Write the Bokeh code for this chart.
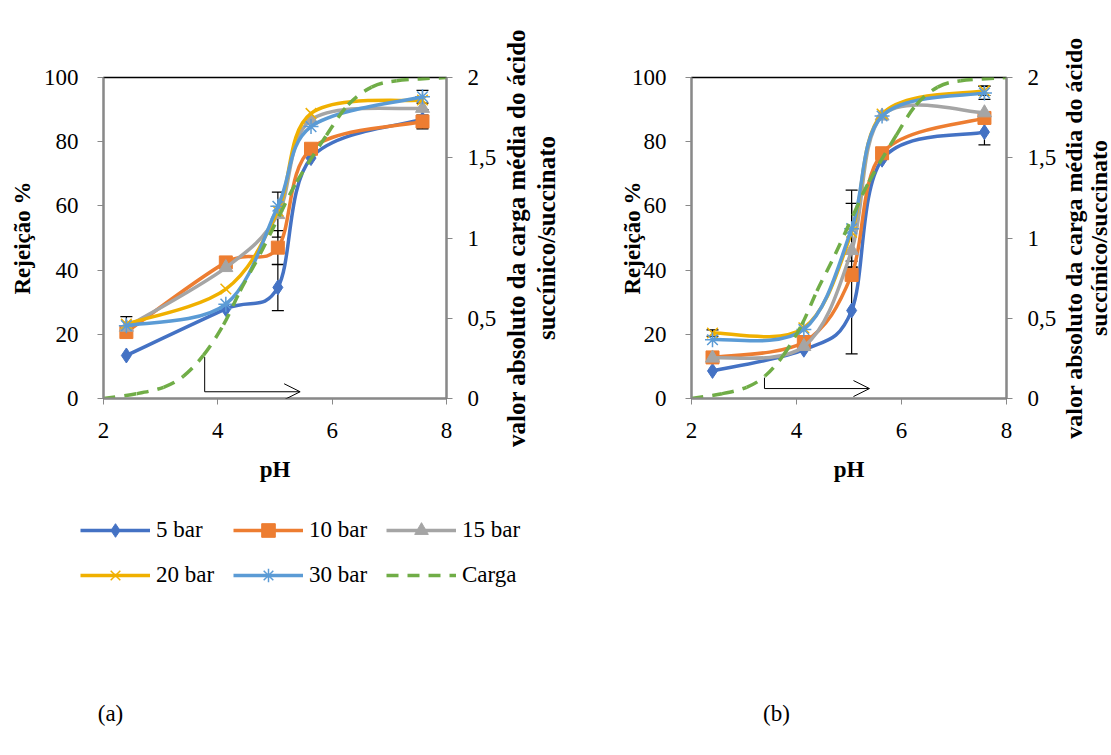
from math import pi
from bokeh.plotting import figure
from bokeh.models import (Range1d, LinearAxis, FixedTicker, Legend, LegendItem, Label,
                          Arrow, OpenHead, Whisker, TeeHead, ColumnDataSource)
from bokeh.layouts import row, column
from bokeh.embed import file_html
from bokeh.resources import INLINE

# ---------------- data ----------------
ph = [2.4, 4.14, 5.05, 5.63, 7.58]
series_names = ["5 bar", "10 bar", "15 bar", "20 bar", "30 bar"]

# panel (a) rejection %
a_5 = [13.4, 27.9, 34.6, 74.9, 87.0]
a_10 = [20.7, 42.4, 47.0, 77.8, 86.3]
a_15 = [22.2, 40.8, 57.3, 86.8, 90.4]
a_20 = [23.2, 34.1, 58.4, 88.8, 93.0]
a_30 = [22.7, 29.4, 59.9, 84.7, 94.0]
# panel (a) error (+/-)
a_err_5 = [0, 0, 7.2, 0, 3.0]
a_err_10 = [0, 0, 5.3, 0, 2.0]
a_err_15 = [0, 0, 7.0, 0, 0]
a_err_20 = [2.3, 0, 0, 0, 0]
a_err_30 = [0, 0, 0, 0, 2.0]

# panel (b) rejection %
b_5 = [8.6, 15.2, 27.4, 74.4, 83.0]
b_10 = [12.8, 17.6, 38.5, 76.4, 87.4]
b_15 = [12.6, 16.2, 46.1, 88.0, 89.0]
b_20 = [20.4, 22.0, 51.8, 88.6, 95.9]
b_30 = [18.3, 21.5, 52.9, 88.0, 95.2]
b_err_5 = [0, 0, 13.5, 0, 4.0]
b_err_10 = [0, 0, 0, 0, 0]
b_err_15 = [0, 0, 0, 0, 0]
b_err_20 = [1.0, 0, 9.0, 0, 1.5]
b_err_30 = [0, 0, 12.0, 0, 2.0]

# average charge of succinic acid / succinate (right axis)
carga_ph = [2.0, 2.58, 3.05, 3.40, 3.75, 4.10, 4.39, 4.74, 5.09, 5.38, 5.90, 6.28, 6.69, 7.13, 8.0]
carga = [0.0, 0.03, 0.07, 0.14, 0.27, 0.46, 0.67, 0.90, 1.15, 1.35, 1.64, 1.83, 1.94, 1.98, 2.0]

x_ticks = [2, 4, 6, 8]
y_ticks = [0, 20, 40, 60, 80, 100]
y2_ticks = [0, 0.5, 1, 1.5, 2]
y2_labels = {0: "0", 0.5: "0,5", 1: "1", 1.5: "1,5", 2: "2"}
right_title = "valor absoluto da carga média do ácido\nsuccínico/succinato"
panel_tags = ["(a)", "(b)"]

colors = ["#4472C4", "#ED7D31", "#A5A5A5", "#F0B000", "#5B9BD5"]
markers = ["diamond", "square", "triangle", "x", "asterisk"]
msizes = [15, 13, 14, 15, 15]
green = "#70AD47"

FONT = "Liberation Serif"
AXIS_GRAY = "#898989"
ROW_H = 490
BOTTOM_H = 250
TOP_B = 77
BOT_B = 92
NAN = float("nan")


def bezier_ctrl(xs, ys):
    n = len(xs)
    out = dict(x0=[], y0=[], x1=[], y1=[], cx0=[], cy0=[], cx1=[], cy1=[])
    for i in range(n - 1):
        im = i - 1 if i > 0 else i
        i2 = i + 2 if i + 2 < n else i + 1
        out["x0"].append(xs[i]); out["y0"].append(ys[i])
        out["x1"].append(xs[i + 1]); out["y1"].append(ys[i + 1])
        out["cx0"].append(xs[i] + (xs[i + 1] - xs[im]) / 6)
        out["cy0"].append(ys[i] + (ys[i + 1] - ys[im]) / 6)
        out["cx1"].append(xs[i + 1] - (xs[i2] - xs[i]) / 6)
        out["cy1"].append(ys[i + 1] - (ys[i2] - ys[i]) / 6)
    return out


def style_axis(ax):
    ax.axis_line_color = AXIS_GRAY
    ax.axis_line_width = 2
    ax.major_tick_line_color = AXIS_GRAY
    ax.major_tick_in = 0
    ax.major_tick_out = 6
    ax.minor_tick_line_color = None
    ax.major_label_text_font = FONT
    ax.major_label_text_font_size = "23px"
    ax.major_label_text_color = "black"
    ax.axis_label_text_font = FONT
    ax.axis_label_text_font_size = "23px"
    ax.axis_label_text_font_style = "bold"
    ax.axis_label_text_color = "black"


def make_panel(vals, errs, width, ml, mr, left_label_standoff, left_standoff):
    p = figure(width=width, height=ROW_H, x_range=Range1d(2, 8), y_range=Range1d(0, 100),
               output_backend="svg", toolbar_location=None,
               min_border_left=ml, min_border_right=mr, min_border_top=TOP_B, min_border_bottom=BOT_B)
    p.extra_y_ranges = {"carga": Range1d(0, 2)}
    p.xgrid.visible = False
    p.ygrid.visible = False
    p.outline_line_color = "black"
    p.outline_line_width = 1.5
    p.background_fill_color = "white"
    p.border_fill_color = "white"

    ax2 = LinearAxis(y_range_name="carga")
    p.add_layout(ax2, "right")
    for ax in [p.xaxis[0], p.yaxis[0], ax2]:
        style_axis(ax)
    p.xaxis.ticker = FixedTicker(ticks=x_ticks)
    p.yaxis[0].ticker = FixedTicker(ticks=y_ticks)
    ax2.ticker = FixedTicker(ticks=y2_ticks)
    ax2.major_label_overrides = y2_labels
    p.xaxis.axis_label = "pH"
    p.xaxis.major_label_standoff = 18
    p.xaxis.axis_label_standoff = 16
    p.yaxis[0].axis_label = "Rejeição %"
    p.yaxis[0].major_label_standoff = left_label_standoff
    p.yaxis[0].axis_label_standoff = left_standoff
    ax2.major_label_standoff = 15

    for name, ys, err, c, m, s in zip(series_names, vals, errs, colors, markers, msizes):
        p.bezier(source=ColumnDataSource(bezier_ctrl(ph, ys)), x0="x0", y0="y0", x1="x1", y1="y1",
                 cx0="cx0", cy0="cy0", cx1="cx1", cy1="cy1", line_color=c, line_width=3.5)
        if m in ("x", "asterisk"):
            p.scatter(ph, ys, marker=m, size=s, line_color=c, line_width=1.5)
        else:
            p.scatter(ph, ys, marker=m, size=s, fill_color=c, line_color=c)
        bx = [x for x, e in zip(ph, err) if e > 0]
        by = [y for y, e in zip(ys, err) if e > 0]
        be = [e for e in err if e > 0]
        if bx:
            src = ColumnDataSource(dict(x=bx, upper=[y + e for y, e in zip(by, be)],
                                        lower=[y - e for y, e in zip(by, be)]))
            w = Whisker(source=src, base="x", upper="upper", lower="lower", line_color="black",
                        line_width=1.2,
                        upper_head=TeeHead(size=12, line_color="black", line_width=1.2),
                        lower_head=TeeHead(size=12, line_color="black", line_width=1.2))
            p.add_layout(w)

    p.bezier(source=ColumnDataSource(bezier_ctrl(carga_ph, carga)), x0="x0", y0="y0", x1="x1", y1="y1",
             cx0="cx0", cy0="cy0", cx1="cx1", cy1="cy1", line_color=green, line_width=3.5,
             line_dash="12 9", y_range_name="carga")
    return p


def title_strip(width, size, lh, standoff):
    """Thin figure whose only content is a vertical axis title (secondary-axis title)."""
    f = figure(width=width, height=ROW_H, x_range=Range1d(0, 1), y_range=Range1d(0, 2),
               output_backend="svg", toolbar_location=None, x_axis_type=None,
               min_border_left=width - 1, min_border_right=0,
               min_border_top=TOP_B, min_border_bottom=BOT_B)
    f.outline_line_color = None
    f.grid.visible = False
    f.background_fill_color = "white"
    f.border_fill_color = "white"
    ax = f.yaxis[0]
    ax.ticker = FixedTicker(ticks=[])
    ax.axis_line_color = None
    ax.major_tick_line_color = None
    ax.minor_tick_line_color = None
    ax.major_tick_out = 0
    ax.major_label_standoff = 0
    ax.axis_label = right_title
    ax.axis_label_standoff = standoff
    ax.axis_label_text_font = FONT
    ax.axis_label_text_font_size = size
    ax.axis_label_text_font_style = "bold"
    ax.axis_label_text_color = "black"
    ax.axis_label_text_line_height = lh
    return f


pa = make_panel([a_5, a_10, a_15, a_20, a_30],
                [a_err_5, a_err_10, a_err_15, a_err_20, a_err_30],
                503, 103, 57, 19, 6)
pb = make_panel([b_5, b_10, b_15, b_20, b_30],
                [b_err_5, b_err_10, b_err_15, b_err_20, b_err_30],
                499, 131, 51, 19, -16)
ta = title_strip(57, "25px", 1.08, 1)
tb = title_strip(52, "24px", 0.95, 0)

# arrows indicating which axis the charge curve belongs to
pa.add_layout(Arrow(x_start=3.77, y_start=12.9, x_end=3.77, y_end=2.1, end=None,
                    line_color="black", line_width=1))
pa.add_layout(Arrow(x_start=3.77, y_start=2.1, x_end=5.44, y_end=2.1,
                    end=OpenHead(size=16, line_color="black", line_width=1),
                    line_color="black", line_width=1))
pb.add_layout(Arrow(x_start=3.39, y_start=6.5, x_end=3.39, y_end=3.1, end=None,
                    line_color="black", line_width=1))
pb.add_layout(Arrow(x_start=3.39, y_start=3.1, x_end=5.39, y_end=3.1,
                    end=OpenHead(size=16, line_color="black", line_width=1),
                    line_color="black", line_width=1))

# bottom strip: legend and panel tags
bottom = figure(width=1111, height=BOTTOM_H, x_range=Range1d(0, 1111), y_range=Range1d(0, BOTTOM_H),
                output_backend="svg", toolbar_location=None, x_axis_type=None, y_axis_type=None,
                min_border=0, min_border_left=0, min_border_right=0, min_border_top=0,
                min_border_bottom=0)
bottom.outline_line_color = None
bottom.grid.visible = False

items = []
for name, c, m, s in zip(series_names, colors, markers, msizes):
    lr = bottom.line([NAN], [NAN], line_color=c, line_width=3.5)
    if m in ("x", "asterisk"):
        sr = bottom.scatter([NAN], [NAN], marker=m, size=s, line_color=c, line_width=1.5)
    else:
        sr = bottom.scatter([NAN], [NAN], marker=m, size=s, fill_color=c, line_color=c)
    items.append(LegendItem(label=name, renderers=[lr, sr]))
gr = bottom.line([NAN], [NAN], line_color=green, line_width=3.5, line_dash="12 9")
items.append(LegendItem(label="Carga", renderers=[gr]))

legend = Legend(items=items, orientation="horizontal", ncols=3, location=(80, 148),
                label_text_font=FONT, label_text_font_size="23px", label_text_color="black",
                glyph_width=70, glyph_height=34, label_standoff=6, spacing=11, label_width=66,
                padding=0, margin=0, border_line_alpha=0, background_fill_alpha=0)
bottom.add_layout(legend)

for tag, tx in zip(panel_tags, [110, 776]):
    bottom.add_layout(Label(x=tx, y=BOTTOM_H - (713 - ROW_H), text=tag, text_align="center",
                            text_baseline="middle", text_font=FONT, text_font_size="23px",
                            text_color="black"))

layout = column(row(pa, ta, pb, tb), bottom)
open("out.html", "w").write(file_html(layout, INLINE))
